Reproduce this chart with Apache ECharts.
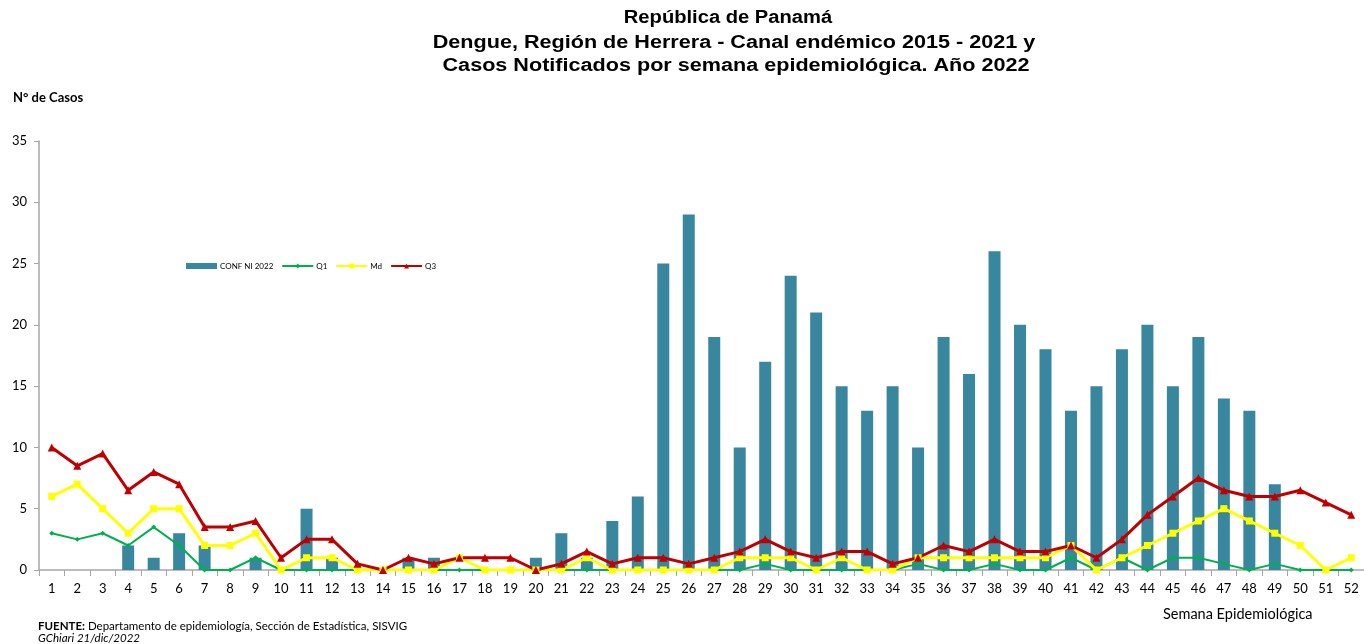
<!DOCTYPE html>
<html><head><meta charset="utf-8">
<script src="https://cdn.jsdelivr.net/npm/echarts@6/dist/echarts.min.js"></script>
<style>html,body{margin:0;padding:0;background:#fff}#c{width:1364px;height:644px}</style>
</head><body><div id="c"></div>
<script>
const weeks = ['1','2','3','4','5','6','7','8','9','10','11','12','13','14','15','16','17','18','19','20','21','22','23','24','25','26','27','28','29','30','31','32','33','34','35','36','37','38','39','40','41','42','43','44','45','46','47','48','49','50','51','52'];
const conf2022 = [0,0,0,2,1,3,2,0,1,0,5,1,0,0,1,1,0,0,0,1,3,1,4,6,25,29,19,10,17,24,21,15,13,15,10,19,16,26,20,18,13,15,18,20,15,19,14,13,7,0,0,0];
const q1 = [3,2.5,3,2,3.5,2,0,0,1,0,0,0,0,0,0,0,0,0,0,0,0,0,0,0,0,0,0,0,0.5,0,0,0,0,0,0.5,0,0,0.5,0,0,1,0,1,0,1,1,0.5,0,0.5,0,0,0];
const md = [6,7,5,3,5,5,2,2,3,0,1,1,0,0,0,0,1,0,0,0,0,1,0,0,0,0,0,1,1,1,0,1,0,0,1,1,1,1,1,1,2,0,1,2,3,4,5,4,3,2,0,1];
const q3 = [10,8.5,9.5,6.5,8,7,3.5,3.5,4,1,2.5,2.5,0.5,0,1,0.5,1,1,1,0,0.5,1.5,0.5,1,1,0.5,1,1.5,2.5,1.5,1,1.5,1.5,0.5,1,2,1.5,2.5,1.5,1.5,2,1,2.5,4.5,6,7.5,6.5,6,6,6.5,5.5,4.5];
const titleLines = ['República de Panamá','Dengue, Región de Herrera - Canal endémico 2015 - 2021 y','Casos Notificados por semana epidemiológica. Año 2022'];
const yTicks = {min:0, max:35, interval:5};

const chart = echarts.init(document.getElementById('c'));
const lab = 'Lato';
const titleY = [18, 43, 66];
const titleX = [728, 734, 736];
chart.setOption({
  animation:false,
  graphic: titleLines.map((t,i)=>({
    type:'text', x:titleX[i], y:titleY[i], scaleX:[1.12,1.2,1.2][i],
    style:{text:t, fill:'#000', font:'bold 18px "Liberation Sans"', textAlign:'center', textVerticalAlign:'middle'}
  })),
  title:[{
    text:'N° de Casos', left:13, top:91, padding:0,
    textStyle:{fontFamily:lab, fontWeight:'bold', fontSize:13, color:'#000'}
  },{
    text:'Semana Epidemiológica', left:1163, top:607, padding:0,
    textStyle:{fontFamily:lab, fontWeight:'normal', fontSize:14.5, color:'#000'}
  },{
    text:'{b|FUENTE:} Departamento de epidemiología, Sección de Estadística, SISVIG\n{i|GChiari 21/dic/2022}',
    left:38, top:620, padding:0,
    textStyle:{fontFamily:lab, fontWeight:'normal', fontSize:11.5, lineHeight:12, color:'#000',
      rich:{b:{fontFamily:lab, fontWeight:'bold', fontSize:11.5}, i:{fontFamily:lab, fontStyle:'italic', fontSize:11.5}}}
  }],
  legend:{
    left:186, top:262, padding:0, itemGap:8, itemWidth:31, itemHeight:6,
    textStyle:{fontFamily:lab, fontSize:8, color:'#000', padding:[0,0,0,-2]},
    data:[{name:'CONF NI 2022', icon:'rect'},{name:'Q1'},{name:'Md'},{name:'Q3'}]
  },
  grid:{left:39, right:0, top:141, bottom:74, containLabel:false},
  xAxis:{
    type:'category', data:weeks, boundaryGap:true,
    axisLine:{lineStyle:{color:'#a6a6a6', width:1.5}},
    axisTick:{show:true, alignWithLabel:false, length:6, lineStyle:{color:'#a6a6a6'}},
    axisLabel:{fontFamily:lab, fontSize:13, color:'#000', margin:12, interval:0}
  },
  yAxis:{
    type:'value', min:yTicks.min, max:yTicks.max, interval:yTicks.interval,
    splitLine:{show:false},
    axisLine:{show:true, lineStyle:{color:'#a6a6a6', width:1.5}},
    axisTick:{show:true, length:5, lineStyle:{color:'#a6a6a6'}},
    axisLabel:{fontFamily:lab, fontSize:13, color:'#000', margin:12}
  },
  series:[
    {name:'CONF NI 2022', type:'bar', data:conf2022, barWidth:12,
     itemStyle:{color:'#39879f'}},
    {name:'Q1', type:'line', data:q1, symbol:'diamond', symbolSize:5,
     lineStyle:{color:'#00b050', width:2}, itemStyle:{color:'#00b050'}},
    {name:'Md', type:'line', data:md, symbol:'rect', symbolSize:7,
     lineStyle:{color:'#ffff00', width:3}, itemStyle:{color:'#ffff00'}},
    {name:'Q3', type:'line', data:q3, symbol:'triangle', symbolSize:8,
     lineStyle:{color:'#c00000', width:3}, itemStyle:{color:'#c00000'}}
  ]
});
</script></body></html>
